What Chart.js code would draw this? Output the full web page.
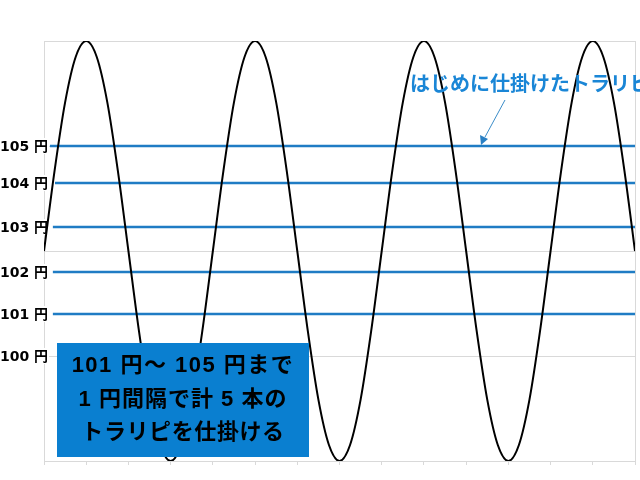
<!DOCTYPE html>
<html>
<head>
<meta charset="utf-8">
<script src="https://cdn.jsdelivr.net/npm/chart.js@4.4.1/dist/chart.umd.min.js"></script>
<style>
html,body{margin:0;padding:0;background:#fff;}
#wrap{width:640px;height:480px;position:relative;}
</style>
</head>
<body>
<div id="wrap"><canvas id="c"></canvas></div>
<script>
// ---- data ----
const waveX = [0,0.25,0.5,0.75,1,1.25,1.5,1.75,2,2.25,2.5,2.75,3,3.25,3.5,3.75,
  4,4.25,4.5,4.75,5,5.25,5.5,5.75,6,6.25,6.5,6.75,7,7.25,7.5,7.75,
  8,8.25,8.5,8.75,9,9.25,9.5,9.75,10,10.25,10.5,10.75,11,11.25,11.5,11.75,
  12,12.25,12.5,12.75,13,13.25,13.5,13.75,14];
const waveY = [102.5,104.41,106.04,107.12,107.5,107.12,106.04,104.41,102.5,100.59,98.96,97.88,97.5,97.88,98.96,100.59,
  102.5,104.41,106.04,107.12,107.5,107.12,106.04,104.41,102.5,100.59,98.96,97.88,97.5,97.88,98.96,100.59,
  102.5,104.41,106.04,107.12,107.5,107.12,106.04,104.41,102.5,100.59,98.96,97.88,97.5,97.88,98.96,100.59,
  102.5,104.41,106.04,107.12,107.5,107.12,106.04,104.41,102.5];
const trapLevels = [105, 104.12, 103.07, 102, 101];
const trapStartX = [0.14, 0.26, 0.21, 0.21, 0.21];
const trapEndX = 14;
const labelValues = [105, 104.12, 103.07, 102, 101, 100];
const labelTexts = ['105 円', '104 円', '103 円', '102 円', '101 円', '100 円'];
const gridValues = [97.5, 100, 102.5, 105, 107.5];
const calloutText = 'はじめに仕掛けたトラリピ';
const boxLines = ['101 円～ 105 円まで', '1 円間隔で計 5 本の', 'トラリピを仕掛ける'];

// ---- chart ----
const GRID = '#d9d9d9';
const BLUE = '#1f7cc4';
const near = (a, b) => Math.abs(a - b) < 1e-6;

const datasets = [{
  data: waveX.map((x, i) => ({x: x, y: waveY[i]})),
  borderColor: '#000000',
  borderWidth: 2,
  pointRadius: 0,
  cubicInterpolationMode: 'monotone',
  fill: false
}];
trapLevels.forEach((v, i) => {
  datasets.push({
    data: [{x: trapStartX[i], y: v}, {x: trapEndX, y: v}],
    borderColor: BLUE,
    borderWidth: 2.5,
    pointRadius: 0,
    fill: false
  });
});

const priceLabels = {
  id: 'priceLabels',
  beforeDatasetsDraw(chart) {
    const ctx = chart.ctx;
    const ys = chart.scales.y;
    ctx.save();
    ctx.font = "bold 14px 'DejaVu Sans', 'Noto Sans CJK JP'";
    ctx.textAlign = 'right';
    ctx.textBaseline = 'middle';
    labelValues.forEach((v, i) => {
      const y = ys.getPixelForValue(v);
      const w = ctx.measureText(labelTexts[i]).width;
      ctx.fillStyle = '#ffffff';
      ctx.fillRect(48 - w - 1, y - 8, w + 2, 16);
      ctx.fillStyle = '#000000';
      ctx.fillText(labelTexts[i], 48, y + 1);
    });
    ctx.restore();
  }
};

const overlay = {
  id: 'overlay',
  afterDraw(chart) {
    const ctx = chart.ctx;
    ctx.save();
    // callout text
    ctx.fillStyle = '#1a86d6';
    ctx.font = "bold 20px 'Liberation Sans', 'Noto Sans CJK JP'";
    ctx.textBaseline = 'middle';
    ctx.textAlign = 'left';
    ctx.fillText(calloutText, 410, 85);
    // arrow
    ctx.strokeStyle = '#3a8cc8';
    ctx.fillStyle = '#2a80c4';
    ctx.lineWidth = 1;
    ctx.beginPath();
    ctx.moveTo(505, 100);
    ctx.lineTo(485, 137);
    ctx.stroke();
    ctx.beginPath();
    ctx.moveTo(481, 145);
    ctx.lineTo(480, 135);
    ctx.lineTo(488, 139);
    ctx.closePath();
    ctx.fill();
    // box
    ctx.fillStyle = '#0a7fd0';
    ctx.fillRect(57, 343, 252, 114);
    ctx.fillStyle = '#000000';
    ctx.font = "bold 22px 'Liberation Sans', 'Noto Sans CJK JP'";
    ctx.textAlign = 'center';
    const ys = [366, 400, 433];
    const sp = ['1.5px', '1px', '0.6px'];
    boxLines.forEach((t, i) => {
      ctx.letterSpacing = sp[i];
      ctx.fillText(t, 183, ys[i]);
    });
    ctx.restore();
  }
};

new Chart(document.getElementById('c'), {
  type: 'line',
  data: {datasets: datasets},
  options: {
    responsive: true,
    maintainAspectRatio: false,
    animation: false,
    devicePixelRatio: 1,
    layout: {padding: {top: 41, right: 5, bottom: 15, left: 0}},
    plugins: {legend: {display: false}, tooltip: {enabled: false}},
    scales: {
      x: {
        type: 'linear',
        min: 0,
        max: 14,
        ticks: {display: false, stepSize: 1},
        grid: {
          drawOnChartArea: true,
          color: c => (c.tick && near(c.tick.value, 14)) ? GRID : 'rgba(0,0,0,0)',
          tickColor: GRID,
          tickLength: 4,
          lineWidth: 1
        },
        border: {color: GRID, width: 1}
      },
      y: {
        type: 'linear',
        min: 97.5,
        max: 107.5,
        afterBuildTicks: s => {
          s.ticks = gridValues.map(v => ({value: v}));
        },
        afterFit: s => { s.width = 44; },
        ticks: {display: false},
        grid: {
          drawTicks: false,
          color: GRID,
          lineWidth: 1
        },
        border: {color: GRID, width: 1}
      }
    }
  },
  plugins: [priceLabels, overlay]
});
</script>
</body>
</html>
